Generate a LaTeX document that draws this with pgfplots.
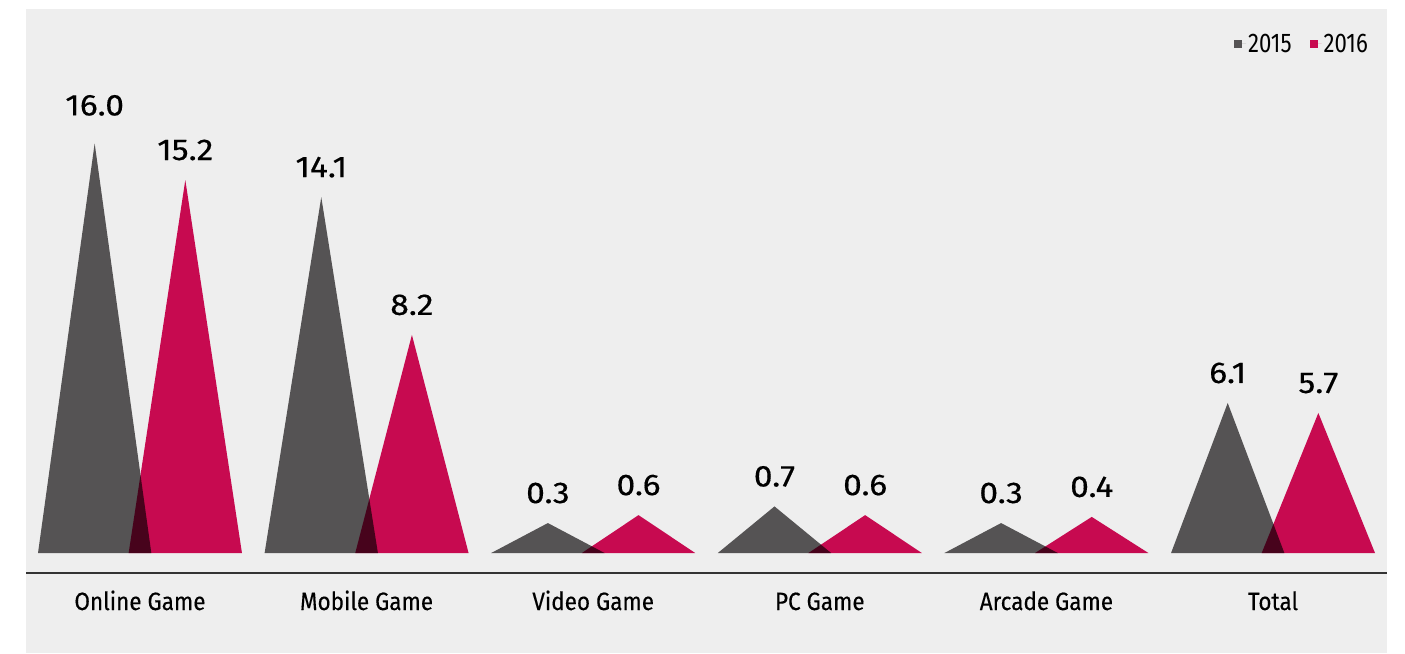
\documentclass[border=0pt]{standalone}
\usepackage{pgfplots}
\pgfplotsset{compat=1.18}
\usepackage{fontspec}
\setmainfont{Fira Sans}
\newfontfamily\lblfam[FakeStretch=1.12, FakeBold=0.4]{Fira Sans}
\newfontfamily\tickfam[FakeStretch=0.9, FakeBold=0.3]{Fira Sans}
\newfontfamily\legfam[FakeStretch=0.82]{Fira Sans}
\definecolor{panel}{HTML}{EEEEEE}
\definecolor{gr}{HTML}{555354}
\definecolor{pk}{HTML}{D60B56}
\definecolor{pkl}{HTML}{C80A50}
\newcommand\lblfont{\lblfam\fontsize{30}{36}\selectfont}
\newcommand\tickfont{\tickfam\fontsize{25}{30}\selectfont}
\newcommand\legfont{\legfam\fontsize{27}{30}\selectfont}
\begin{document}
\begin{tikzpicture}[x=1pt,y=1pt]
\useasboundingbox (0,0) rectangle (1405,653);
\fill[panel] (26,0) rectangle (1387,644);
\begin{axis}[
  at={(26pt,80pt)}, anchor=south west,
  scale only axis, width=1361pt, height=564pt,
  xmin=-0.503, xmax=5.503, ymin=-0.781, ymax=21.25,
  axis x line*=bottom, axis y line=none,
  x axis line style={draw=black!80, line width=1.2pt, -},
  xtick={0,1,2,3,4,5},
  xticklabels={Online Game, Mobile Game, Video Game, PC Game, Arcade Game, Total},
  major tick length=0pt,
  xticklabel style={font=\tickfont, anchor=base, yshift=-37pt},
  ytick=\empty,
  clip=false,
  legend columns=2,
  legend image code/.code={\fill[#1] (0pt,-4pt) rectangle (8pt,4pt); \path (8pt,0pt) -- (12pt,0pt);},
  legend style={at={(rel axis cs:0.9875,0.938)}, anchor=east, draw=none, fill=none,
    inner sep=0pt, font=\legfont, nodes={inner sep=2pt, inner xsep=2pt},
    /tikz/every even column/.append style={column sep=16pt}},
]
\addlegendimage{fill=gr, draw=none}
\addlegendentry{2015}
\addlegendimage{fill=pkl, draw=none}
\addlegendentry{2016}
% 2015 triangles
\addplot[fill=gr, draw=none, forget plot] coordinates {(-0.45,0) (-0.2,16.0) (0.05,0)};
\addplot[fill=gr, draw=none, forget plot] coordinates {(0.55,0) (0.8,13.9) (1.05,0)};
\addplot[fill=gr, draw=none, forget plot] coordinates {(1.55,0) (1.8,1.17) (2.05,0)};
\addplot[fill=gr, draw=none, forget plot] coordinates {(2.55,0) (2.8,1.82) (3.05,0)};
\addplot[fill=gr, draw=none, forget plot] coordinates {(3.55,0) (3.8,1.17) (4.05,0)};
\addplot[fill=gr, draw=none, forget plot] coordinates {(4.55,0) (4.8,5.86) (5.05,0)};
% 2016 triangles
\addplot[fill=pk, draw=none, blend mode=multiply, forget plot] coordinates {(-0.05,0) (0.2,14.57) (0.45,0)};
\addplot[fill=pk, draw=none, blend mode=multiply, forget plot] coordinates {(0.95,0) (1.2,8.52) (1.45,0)};
\addplot[fill=pk, draw=none, blend mode=multiply, forget plot] coordinates {(1.95,0) (2.2,1.48) (2.45,0)};
\addplot[fill=pk, draw=none, blend mode=multiply, forget plot] coordinates {(2.95,0) (3.2,1.48) (3.45,0)};
\addplot[fill=pk, draw=none, blend mode=multiply, forget plot] coordinates {(3.95,0) (4.2,1.41) (4.45,0)};
\addplot[fill=pk, draw=none, blend mode=multiply, forget plot] coordinates {(4.95,0) (5.2,5.47) (5.45,0)};
% value labels
\addplot[draw=none, mark=none, forget plot, nodes near coords, point meta=explicit symbolic,
  nodes near coords style={anchor=base, yshift=28pt, font=\lblfont, text=black}]
  coordinates {(-0.2,16.0)[16.0]};
\addplot[draw=none, mark=none, forget plot, nodes near coords, point meta=explicit symbolic,
  nodes near coords style={anchor=base, yshift=20pt, font=\lblfont, text=black}]
  coordinates {(0.8,13.9)[14.1] (1.8,1.17)[0.3] (2.8,1.82)[0.7] (3.8,1.17)[0.3] (4.8,5.86)[6.1]
               (0.2,14.57)[15.2] (1.2,8.52)[8.2] (2.2,1.48)[0.6] (3.2,1.48)[0.6] (4.2,1.41)[0.4] (5.2,5.47)[5.7]};
\end{axis}
\end{tikzpicture}
\end{document}
